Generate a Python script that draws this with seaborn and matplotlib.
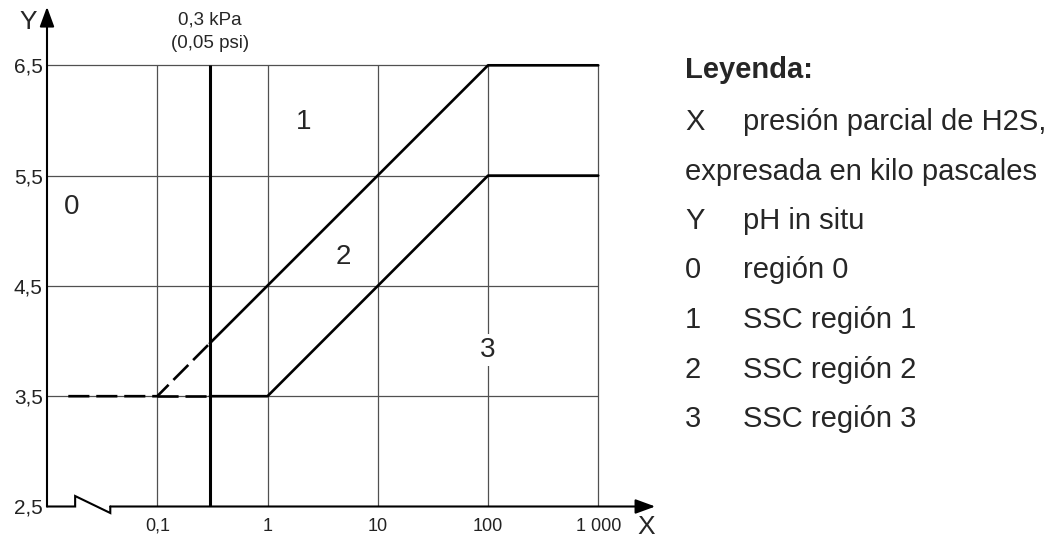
import numpy as np
import pandas as pd
import seaborn as sns
import matplotlib.pyplot as plt

# boundary lines: x = H2S partial pressure (kPa), y = pH in situ
upper_dash_x = [0.0156, 0.1, 0.3]
upper_dash_y = [3.5, 3.5, 3.98]
upper_solid_x = [0.3, 100, 1000]
upper_solid_y = [3.98, 6.5, 6.5]
lower_dash_x = [0.1, 0.3]
lower_dash_y = [3.5, 3.5]
lower_solid_x = [0.3, 1, 100, 1000]
lower_solid_y = [3.5, 3.5, 5.5, 5.5]

limit_kpa = 0.3
limit_labels = ['0,3 kPa', '(0,05 psi)']

x_ticks = [0.1, 1, 10, 100, 1000]
x_labels = ['0,1', '1', '10', '100', '1 000']
y_ticks = [2.5, 3.5, 4.5, 5.5, 6.5]
y_labels = ['2,5', '3,5', '4,5', '5,5', '6,5']

region_names = ['0', '1', '2', '3']
region_x = [0.0166, 2.11, 4.86, 100]
region_y = [5.215, 5.986, 4.762, 3.919]

legend_title = 'Leyenda:'
legend_keys = ['X', '', 'Y', '0', '1', '2', '3']
legend_desc = ['presión parcial de H2S,', 'expresada en kilo pascales', 'pH in situ',
               'región 0', 'SSC región 1', 'SSC región 2', 'SSC región 3']

sns.set_theme(style='white')
plt.rcParams['font.family'] = ['Liberation Sans', 'DejaVu Sans']

W, H = 1051, 537
fig = plt.figure(figsize=(W / 100, H / 100), dpi=100)
ax = fig.add_axes([47 / W, 30.5 / H, 611.9 / W, 4.55 * 110.3 / H])
ax.set_xscale('log')
ax.set_xlim(0.01, 10 ** 3.55)
ax.set_ylim(2.5, 7.05)
for s in ax.spines.values():
    s.set_visible(False)

grid_c = '#505050'
ax.vlines(x_ticks, 2.5, 6.5, color=grid_c, lw=0.9, zorder=1)
ax.hlines(y_ticks[1:], 0.01, 1000, color=grid_c, lw=0.9, zorder=1)
ax.vlines([limit_kpa], 2.5, 6.5, color='black', lw=2.2, zorder=3)

def seg(x, y, dashed):
    df = pd.DataFrame({'x': x, 'y': y})
    kw = dict(linestyle=(0, (8, 2.6))) if dashed else {}
    sns.lineplot(data=df, x='x', y='y', ax=ax, color='black', lw=1.9,
                 sort=False, estimator=None, zorder=4, **kw)

seg(upper_dash_x, upper_dash_y, True)
seg(lower_dash_x, lower_dash_y, True)
seg(upper_solid_x, upper_solid_y, False)
seg(lower_solid_x, lower_solid_y, False)

# axes with arrows and the break mark
ax.plot([0.01, 0.018, 0.018, 0.0375, 0.0375], [2.5, 2.5, 2.595, 2.441, 2.5],
        color='black', lw=1.5, clip_on=False, zorder=5, solid_joinstyle='miter')
arrow = dict(arrowstyle='-|>,head_length=0.6,head_width=0.22', color='black',
             lw=1.5, mutation_scale=20, shrinkA=0, shrinkB=0)
ax.annotate('', xy=(10 ** 3.517, 2.5), xytext=(0.0375, 2.5), arrowprops=arrow,
            annotation_clip=False, zorder=5)
ax.annotate('', xy=(0.01, 7.03), xytext=(0.01, 2.5), arrowprops=arrow,
            annotation_clip=False, zorder=5)

ax.set_xticks(x_ticks)
ax.set_xticklabels(x_labels)
ax.set_yticks(y_ticks)
ax.set_yticklabels(y_labels)
ax.minorticks_off()
ax.tick_params(axis='x', length=0, pad=8, labelsize=13, labelcolor='#222222')
ax.tick_params(axis='y', length=0, pad=3, labelsize=15, labelcolor='#222222')
ax.set_xlabel('')
ax.set_ylabel('')

for name, xx, yy in zip(region_names, region_x, region_y):
    bbox = dict(facecolor='white', edgecolor='none', pad=2) if name == '3' else None
    ax.text(xx, yy, name, fontsize=20, ha='center', va='center', zorder=6, bbox=bbox)

ax.text(limit_kpa, 6.911, limit_labels[0], fontsize=13.5, ha='center', va='center',
        clip_on=False)
ax.text(limit_kpa, 6.702, limit_labels[1], fontsize=13.5, ha='center', va='center',
        clip_on=False)

fig.text(28 / W, 1 - 22 / H, 'Y', fontsize=19, ha='center', va='center')
fig.text(646 / W, 1 - 527 / H, 'X', fontsize=19, ha='center', va='center')

# legend block
fig.text(685 / W, 1 - 78 / H, legend_title, fontsize=21, fontweight='bold', va='baseline')
for i, (k, d) in enumerate(zip(legend_keys, legend_desc)):
    base = 130 + 49.5 * i
    if k:
        fig.text(685 / W, 1 - base / H, k, fontsize=21, va='baseline')
        fig.text(743 / W, 1 - base / H, d, fontsize=21, va='baseline')
    else:
        fig.text(685 / W, 1 - base / H, d, fontsize=21, va='baseline')

fig.savefig('out.png', dpi=100, facecolor='white')
